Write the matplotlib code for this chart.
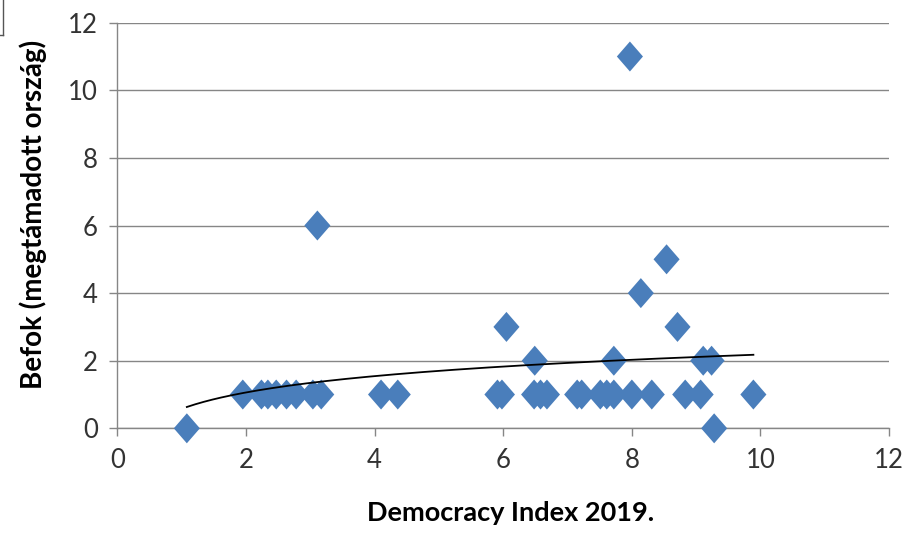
import numpy as np
import matplotlib
matplotlib.use("Agg")
from matplotlib import pyplot as plt
from matplotlib.lines import Line2D

plt.rcParams['font.family'] = ['Lato', 'DejaVu Sans']

# Democracy Index 2019 vs number of attacked countries
dem_index = [1.08, 9.28,
             1.95, 2.24, 2.34, 2.47, 2.63, 2.78, 3.04, 3.17, 4.10, 4.36,
             5.91, 5.98, 6.48, 6.58, 6.68, 7.15, 7.22, 7.51, 7.61, 7.72,
             8.00, 8.31, 8.83, 9.07, 9.89,
             6.49, 7.72, 9.11, 9.24,
             6.05, 8.71,
             8.14,
             8.54,
             3.11,
             7.97]
attacks = [0, 0,
           1, 1, 1, 1, 1, 1, 1, 1, 1, 1,
           1, 1, 1, 1, 1, 1, 1, 1, 1, 1,
           1, 1, 1, 1, 1,
           2, 2, 2, 2,
           3, 3,
           4,
           5,
           6,
           11]

x_ticks = [0, 2, 4, 6, 8, 10, 12]
y_ticks = [0, 2, 4, 6, 8, 10, 12]

x = np.array(dem_index)
y = np.array(attacks)

# logarithmic trendline like excel
a, b = np.polyfit(np.log(x), y, 1)
xt = np.linspace(x.min(), x.max(), 200)
yt = a * np.log(xt) + b

fig = plt.figure(figsize=(9.1, 5.33), dpi=100)
ax = fig.add_axes([0.129, 0.1964, 0.848, 0.761])

grid_col = "#868686"
ax.yaxis.grid(True, color=grid_col, linewidth=1.0)
ax.set_axisbelow(True)

# excel diamonds are a bit taller than wide
diamond = [(0, 1), (0.87, 0), (0, -1), (-0.87, 0), (0, 1)]
ax.scatter(x, y, marker=diamond, s=21.6**2, color="#4a7ebb", edgecolors="none",
           zorder=3, clip_on=False)
ax.plot(xt, yt, color="black", linewidth=1.3, zorder=4)

ax.set_xlim(0, 12)
ax.set_ylim(0, 12)
ax.set_xticks(x_ticks)
ax.set_yticks(y_ticks)
ax.tick_params(axis="both", labelsize=18.5, color=grid_col, length=6, width=1.0,
               direction="out", labelcolor="#333333")
ax.tick_params(axis="x", pad=8)
ax.tick_params(axis="y", pad=8)

for side in ["top", "right"]:
    ax.spines[side].set_visible(False)
for side in ["left", "bottom"]:
    ax.spines[side].set_color(grid_col)
    ax.spines[side].set_linewidth(1.0)

ax.set_xlabel("Democracy Index 2019.", fontsize=19.5, fontweight="bold", va="baseline")
ax.xaxis.set_label_coords(0.51, -0.229)
ax.set_ylabel("Befok (megtámadott ország)", fontsize=20, fontweight="bold", va="baseline")
ax.yaxis.set_label_coords(-0.0975, 0.527)

# corner of the outer chart frame
fig.add_artist(Line2D([3/910, 3/910], [1, 1 - 35/533], color="#555555", linewidth=1.0))
fig.add_artist(Line2D([0, 3/910], [1 - 35/533, 1 - 35/533], color="#555555", linewidth=1.0))

fig.savefig("out.png", dpi=100)
